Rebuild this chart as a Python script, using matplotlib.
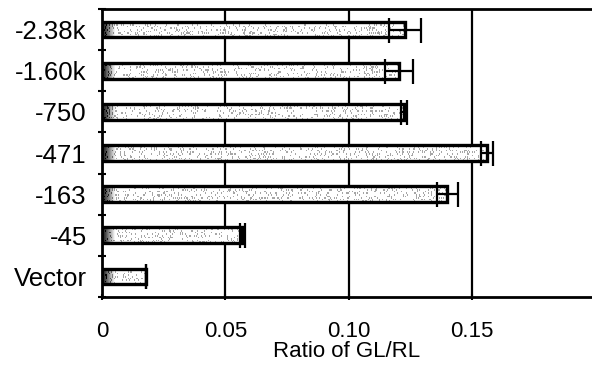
import numpy as np
import matplotlib
matplotlib.use("Agg")
import matplotlib.pyplot as plt

categories = ["-2.38k", "-1.60k", "-750", "-471", "-163", "-45", "Vector"]
values = [0.1229, 0.1204, 0.1225, 0.1561, 0.1399, 0.0568, 0.0178]
errors = [0.0065, 0.0057, 0.0012, 0.0024, 0.0043, 0.0010, 0.0]
xticks = [0, 0.05, 0.10, 0.15]
xticklabels = ["0", "0.05", "0.10", "0.15"]

plt.rcParams['font.family'] = ['Liberation Sans', 'DejaVu Sans']

fig = plt.figure(figsize=(5.92, 3.66), dpi=100)
ax = fig.add_axes([102/592, 1-297/366, 1-102/592, (297-9)/366])

y = np.arange(len(categories))
bars = ax.barh(y, values, height=0.38, color='#e6e6e6', edgecolor='none',
               linewidth=0, zorder=3)

# stippled fill, dark at the left end, clipped to each bar
rng = np.random.default_rng(1)
for b in bars:
    x0, y0 = b.get_x(), b.get_y()
    w, h = b.get_width(), b.get_height()
    xs = np.linspace(0, w, 400)
    shade = 0.2 + 0.75 * np.clip((xs - 0.0012) / 0.004, 0, 1)
    img = np.tile(shade, (10, 1))
    dots = rng.random(img.shape) < 0.15
    img = np.where(dots, img - 0.3, img + 0.05)
    img = np.clip(img, 0, 1)
    im = ax.imshow(img, cmap='gray', vmin=0, vmax=1, aspect='auto',
                   extent=(x0, x0 + w, y0 + h, y0), zorder=3.5,
                   interpolation='nearest')
    im.set_clip_path(b)
    ax.barh(b.get_y() + h / 2, w, height=h, left=x0, facecolor='none',
            edgecolor='black', linewidth=2.4, zorder=4)

ax.errorbar(values, y, xerr=errors, fmt='none', ecolor='black',
            elinewidth=1.6, capsize=9, capthick=1.6, zorder=5)

ax.set_xlim(0, (592 - 102) / 2467)
ax.set_ylim(len(categories) - 0.5, -0.5)

ax.set_xticks(xticks)
ax.set_xticklabels(xticklabels, fontsize=16)
ax.set_yticks(y)
ax.set_yticklabels(categories, fontsize=18.5)
ax.set_yticks(np.arange(len(categories) + 1) - 0.5, minor=True)

ax.tick_params(axis='y', which='major', length=0, pad=11)
ax.tick_params(axis='y', which='minor', length=6, width=1.5, direction='inout')
ax.tick_params(axis='x', which='major', length=5, width=1.5, direction='inout', pad=15)

for v in xticks[1:]:
    ax.axvline(v, color='black', linewidth=1.6, zorder=1)

for s in ['left', 'bottom', 'top']:
    ax.spines[s].set_linewidth(2.0)
ax.spines['right'].set_visible(False)

ax.set_xlabel("Ratio of GL/RL", fontsize=16, labelpad=-1)

fig.savefig("out.png", dpi=100)
